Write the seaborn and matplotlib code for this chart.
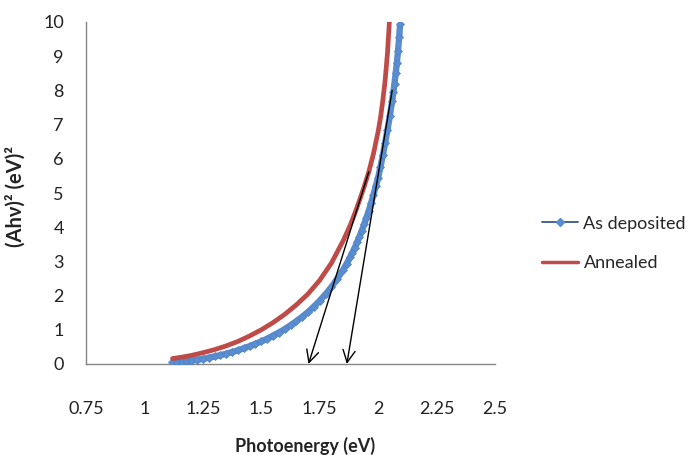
import matplotlib
matplotlib.use("Agg")
import matplotlib.pyplot as plt
import seaborn as sns
import pandas as pd
from matplotlib.lines import Line2D
from matplotlib.ticker import MultipleLocator

# ---- data ----
annealed_x = [1.12, 1.16, 1.20, 1.25, 1.30, 1.35, 1.40, 1.45, 1.50, 1.55, 1.60, 1.65,
              1.70, 1.75, 1.80, 1.85, 1.88, 1.90, 1.92, 1.94, 1.96, 1.98, 2.00, 2.01,
              2.02, 2.03, 2.04, 2.048]
annealed_y = [0.16, 0.20, 0.25, 0.33, 0.42, 0.53, 0.66, 0.82, 1.00, 1.21, 1.45, 1.73,
              2.05, 2.45, 2.95, 3.60, 4.05, 4.40, 4.78, 5.18, 5.62, 6.15, 6.80, 7.20,
              7.70, 8.30, 9.10, 10.0]

deposited_x = [1.12, 1.14, 1.16, 1.18, 1.20, 1.225, 1.25, 1.275, 1.30, 1.325, 1.35,
               1.375, 1.40, 1.425, 1.45, 1.475, 1.50, 1.525, 1.55, 1.575, 1.60, 1.625,
               1.65, 1.675, 1.70, 1.725, 1.75, 1.775, 1.80, 1.825, 1.85, 1.865, 1.88,
               1.89, 1.90, 1.91, 1.92, 1.93, 1.94, 1.95, 1.96, 1.97, 1.98, 1.99, 2.00,
               2.01, 2.02, 2.03, 2.04, 2.05, 2.06, 2.065, 2.07, 2.075, 2.08, 2.085,
               2.09, 2.094]
deposited_y = [0.05, 0.06, 0.07, 0.085, 0.10, 0.125, 0.15, 0.185, 0.22, 0.26, 0.30,
               0.35, 0.40, 0.46, 0.52, 0.59, 0.66, 0.74, 0.83, 0.92, 1.02, 1.13,
               1.25, 1.38, 1.52, 1.68, 1.85, 2.04, 2.25, 2.49, 2.75, 2.93, 3.12,
               3.26, 3.40, 3.56, 3.72, 3.90, 4.08, 4.28, 4.48, 4.71, 4.95, 5.20, 5.45,
               5.77, 6.10, 6.47, 6.85, 7.25, 7.70, 7.95, 8.20, 8.50, 8.80, 9.15,
               9.55, 9.95]

# tangent arrows (tail -> head)
arrow_tails = [(1.96, 5.62), (2.06, 8.0)]
arrow_heads = [(1.702, 0.0), (1.866, 0.0)]

x_ticks = [0.75, 1.0, 1.25, 1.5, 1.75, 2.0, 2.25, 2.5]
x_tick_labels = ["0.75", "1", "1.25", "1.5", "1.75", "2", "2.25", "2.5"]
y_ticks = list(range(0, 11))

series_names = ["As deposited", "Annealed"]

# ---- styling ----
sns.set_style("white")
plt.rcParams["font.family"] = ["Lato", "DejaVu Sans"]

RED = "#BE4B48"
BLUE_BAND = "#5A8ED0"
BLUE_LINE = "#2A4A7A"
GRAY = "#868686"
TXT = "#222222"

fig = plt.figure(figsize=(6.89, 4.55), dpi=100)
ax = fig.add_axes([86 / 689, 1 - 364 / 455, 409 / 689, 342 / 455])

df_a = pd.DataFrame({"x": annealed_x, "y": annealed_y})
df_d = pd.DataFrame({"x": deposited_x, "y": deposited_y})

# As deposited: thin series line, covered by a dense band of light-blue diamonds
sns.lineplot(data=df_d, x="x", y="y", ax=ax, color=BLUE_LINE, lw=0.9,
             estimator=None, sort=False, zorder=2)
sns.lineplot(data=df_d, x="x", y="y", ax=ax, color=BLUE_BAND, lw=4.6,
             estimator=None, sort=False, solid_capstyle="butt", zorder=3)
sns.lineplot(data=df_d, x="x", y="y", ax=ax, color=BLUE_BAND, lw=0,
             marker="D", markersize=4.2, markerfacecolor=BLUE_BAND,
             markeredgecolor="#5283C4", markeredgewidth=0.5,
             estimator=None, sort=False, zorder=4)
# Annealed
sns.lineplot(data=df_a, x="x", y="y", ax=ax, color=RED, lw=3.4,
             estimator=None, sort=False, zorder=5)

for tail, head in zip(arrow_tails, arrow_heads):
    ax.annotate("", xy=head, xytext=tail,
                arrowprops=dict(arrowstyle="->", color="black", lw=1.0,
                                mutation_scale=22, shrinkA=0, shrinkB=0),
                zorder=6)

ax.set_xlim(0.75, 2.5)
ax.set_ylim(0, 10)
ax.set_xticks(x_ticks)
ax.set_xticklabels(x_tick_labels)
ax.set_yticks(y_ticks)
ax.xaxis.set_minor_locator(MultipleLocator(0.05))

for s in ["top", "right"]:
    ax.spines[s].set_visible(False)
for s in ["left", "bottom"]:
    ax.spines[s].set_color(GRAY)
    ax.spines[s].set_linewidth(1.0)

ax.tick_params(axis="x", which="major", direction="out", length=7, width=1,
               color=GRAY, labelsize=13, pad=20, labelcolor=TXT)
ax.tick_params(axis="x", which="minor", direction="inout", length=6, width=1,
               color=GRAY)
ax.tick_params(axis="y", which="major", direction="out", length=6, width=1,
               color=GRAY, labelsize=13, pad=10, labelcolor=TXT)

ax.set_xlabel("Photoenergy (eV)", fontsize=13, fontweight="bold", color=TXT)
ax.set_ylabel("(Ahν)² (eV)²", fontsize=14.5, fontweight="bold", color=TXT)
ax.xaxis.set_label_coords(0.535, -0.212)
ax.yaxis.set_label_coords(-0.148, 0.49)

handles = [
    Line2D([], [], color=BLUE_LINE, lw=1.2, marker="D", markersize=4,
           markerfacecolor=BLUE_BAND, markeredgecolor=BLUE_BAND),
    Line2D([], [], color=RED, lw=2.5),
]
fig.legend(handles, series_names, loc="center left",
           bbox_to_anchor=(0.763, 0.465), frameon=False, fontsize=13,
           handlelength=2.0, handletextpad=0.3, labelspacing=1.3,
           borderpad=0.4)

fig.savefig("out.png", dpi=100, facecolor="white")
